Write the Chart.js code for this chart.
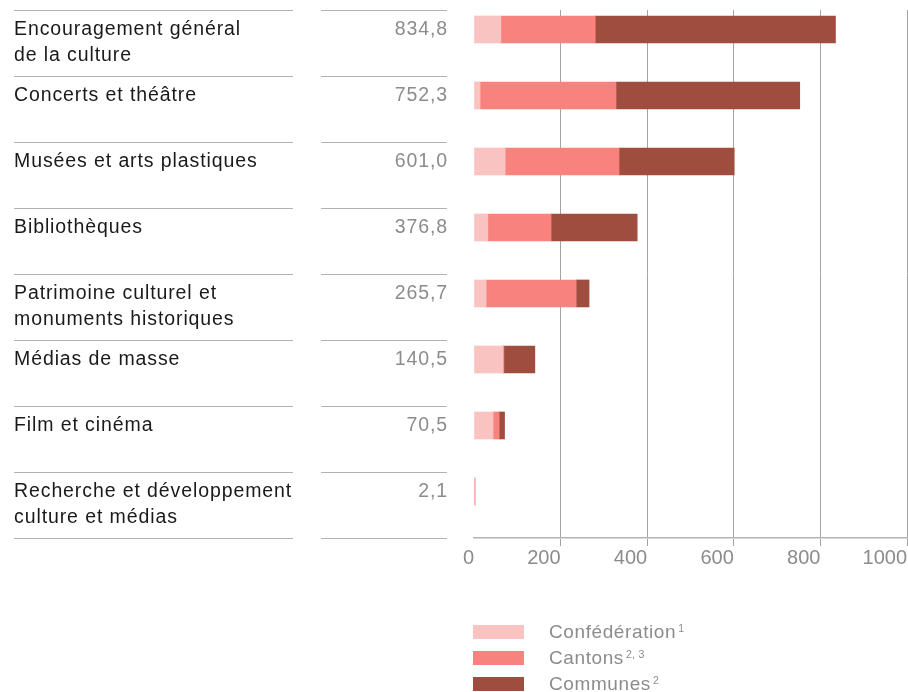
<!DOCTYPE html>
<html>
<head>
<meta charset="utf-8">
<script src="https://cdn.jsdelivr.net/npm/chart.js@4"></script>
<style>
  html, body { margin: 0; padding: 0; background: #fff; }
</style>
</head>
<body>
<canvas id="kulturCanvas" width="908" height="692"></canvas>
<script>
    // data (Mio. CHF)
    let categories = [
        ["Encouragement général", "de la culture"],
        ["Concerts et théâtre"],
        ["Musées et arts plastiques"],
        ["Bibliothèques"],
        ["Patrimoine culturel et", "monuments historiques"],
        ["Médias de masse"],
        ["Film et cinéma"],
        ["Recherche et développement", "culture et médias"]
    ];
    let totals = [834.8, 752.3, 601.0, 376.8, 265.7, 140.5, 70.5, 2.1];
    let confederation = [62, 14, 72, 32, 28, 67, 44, 2.1];
    let cantons = [218, 314, 263, 146, 208, 2, 14, 0];
    let communes = [554.8, 424.3, 266, 198.8, 29.7, 71.5, 12.5, 0];
    let xTicks = [0, 200, 400, 600, 800, 1000];

    let seriesNames = ["Confédération", "Cantons", "Communes"];
    let seriesNotes = ["1", "2, 3", "2"];
    let seriesColors = ["#f9c3c2", "#f8837e", "#9e4d3f"];

    let font = "'Liberation Sans', Arial, sans-serif";

    function toPoints(arr) {
        return arr.map((v, i) => ({ x: v, y: i }));
    }

    let sideTable = {
        id: 'sideTable',
        afterDraw(chart) {
            let c = chart.ctx;
            let y = chart.scales.y;
            c.save();
            // row separators
            c.strokeStyle = '#b2b2b2';
            c.lineWidth = 1;
            for (let i = 0; i <= categories.length; i++) {
                let top = Math.round(y.getPixelForValue(i - 0.295)) + 0.5;
                c.beginPath();
                c.moveTo(14, top); c.lineTo(293, top);
                c.moveTo(321, top); c.lineTo(447, top);
                c.stroke();
            }
            c.font = '19.5px ' + font;
            c.letterSpacing = '0.9px';
            c.textBaseline = 'alphabetic';
            categories.forEach((lines, i) => {
                let top = y.getPixelForValue(i - 0.295);
                c.fillStyle = '#1a1a1a';
                c.textAlign = 'left';
                lines.forEach((t, k) => c.fillText(t, 14, top + 25 + k * 26));
                c.fillStyle = '#8c8c8c';
                c.textAlign = 'right';
                c.fillText(totals[i].toFixed(1).replace('.', ','), 448, top + 25);
            });
            // legend
            c.letterSpacing = '0.6px';
            seriesNames.forEach((name, k) => {
                let ly = 625 + k * 26;
                c.fillStyle = seriesColors[k];
                c.fillRect(473, ly, 51, 14);
                c.fillStyle = '#8c8c8c';
                c.textAlign = 'left';
                c.font = '19px ' + font;
                c.fillText(name, 549, ly + 13);
                let w = c.measureText(name).width;
                c.font = '10.5px ' + font;
                c.letterSpacing = '0.3px';
                c.fillText(seriesNotes[k], 549 + w + 2, ly + 6.5);
                c.letterSpacing = '0.6px';
            });
            c.restore();
        }
    };

    let ctx = document.getElementById("kulturCanvas");

    let data = {
        datasets: [
            { label: seriesNames[0], data: toPoints(confederation), backgroundColor: seriesColors[0] },
            { label: seriesNames[1], data: toPoints(cantons), backgroundColor: seriesColors[1] },
            { label: seriesNames[2], data: toPoints(communes), backgroundColor: seriesColors[2] }
        ]
    };

    let options = {
        indexAxis: 'y',
        responsive: false,
        animation: false,
        layout: { padding: { left: 474, right: 1, top: 10, bottom: 114 } },
        datasets: { bar: { barThickness: 27, borderWidth: 0 } },
        plugins: { legend: { display: false }, tooltip: { enabled: false } },
        scales: {
            x: {
                type: 'linear',
                stacked: true,
                min: 0,
                max: 1000,
                afterBuildTicks(scale) { scale.ticks = xTicks.map(v => ({ value: v })); },
                afterFit(scale) {
                    scale.height = 40;
                    scale.paddingLeft = 0;
                    scale.paddingRight = 0;
                },
                grid: {
                    color: c => (c.tick && c.tick.value === 0) ? 'rgba(0,0,0,0)' : '#a3a3a3',
                    lineWidth: 1,
                    drawTicks: true,
                    tickLength: 8
                },
                border: { display: true, color: '#b3b3b3', width: 1.5 },
                ticks: {
                    align: 'end',
                    padding: 0,
                    color: '#8c8c8c',
                    font: { family: font, size: 20 },
                    callback: v => String(v)
                }
            },
            y: {
                type: 'linear',
                stacked: true,
                reverse: true,
                offset: false,
                min: -0.295,
                max: 7.705,
                display: false
            }
        }
    };

    var kulturChart = new Chart(ctx, {
        type: 'bar',
        data: data,
        options: options,
        plugins: [sideTable]
    });
</script>
</body>
</html>
